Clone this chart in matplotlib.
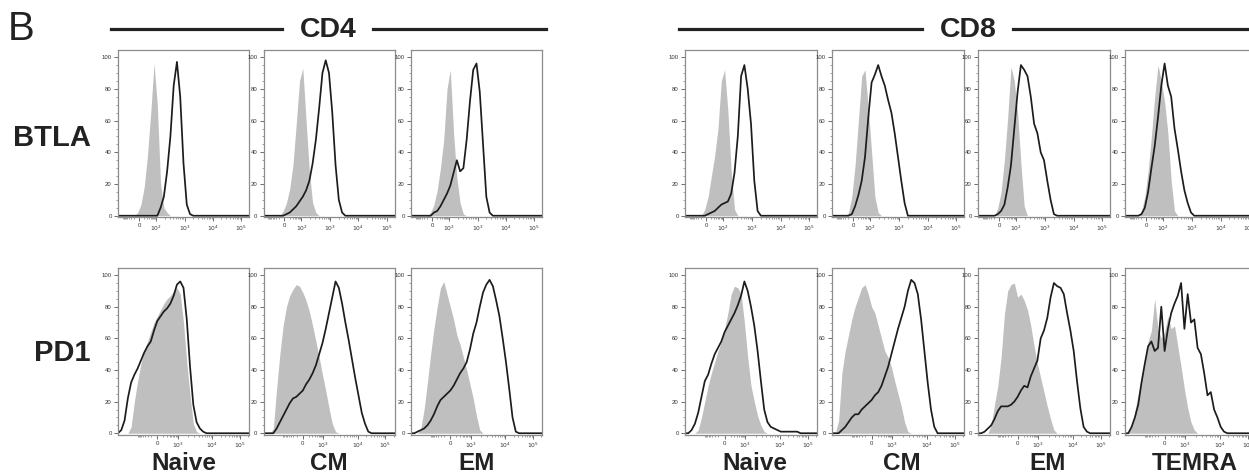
import numpy as np
import matplotlib
matplotlib.use("Agg")
import matplotlib.pyplot as plt

plt.rcParams["font.family"] = ["Liberation Sans", "DejaVu Sans"]

# ------------------------------------------------------------
# Data: histogram heights (% of max) read off the figure, sampled
# every 0.025 of each panel's width (41 bins); trailing zeros padded.
# ------------------------------------------------------------
N_BINS = 41
BINS = np.linspace(0.0, 1.0, N_BINS)

ROWS = ["BTLA", "PD1"]
CD4_SUBSETS = ["Naive", "CM", "EM"]
CD8_SUBSETS = ["Naive", "CM", "EM", "TEMRA"]

TOP_TICKS = ["0", "$10^2$", "$10^3$", "$10^4$", "$10^5$"]
TOP_TICK_POS = [0.16, 0.29, 0.51, 0.725, 0.94]
BOT_TICKS = ["0", "$10^3$", "$10^4$", "$10^5$"]
BOT_TICK_POS = [0.30, 0.455, 0.72, 0.93]
Y_TICKS = [0, 20, 40, 60, 80, 100]

# CD4, BTLA (control = grey fill, stain = black line)
CD4_BTLA_NAIVE_CTRL = [0, 0, 0, 0, 0, 0, 2, 7, 18, 38, 65, 96, 70, 20, 5, 2]
CD4_BTLA_NAIVE_STAIN = [0, 0, 0, 0, 0, 0, 0, 0, 0, 0, 0, 0, 0, 5, 12, 28, 50, 82, 97, 75, 33, 7, 1]
CD4_BTLA_CM_CTRL = [0, 0, 0, 0, 0, 0, 3, 8, 17, 32, 58, 85, 93, 60, 28, 8, 2]
CD4_BTLA_CM_STAIN = [0, 0, 0, 0, 0, 0, 0, 1, 2, 4, 6, 9, 12, 16, 22, 33, 48, 68, 90, 98, 90, 65, 32, 10, 2]
CD4_BTLA_EM_CTRL = [0, 0, 0, 0, 0, 0, 2, 7, 16, 30, 48, 80, 92, 52, 24, 8, 1]
CD4_BTLA_EM_STAIN = [0, 0, 0, 0, 0, 0, 0, 2, 3, 6, 10, 14, 19, 27, 35, 28, 30, 48, 72, 92, 96, 78, 45, 12, 2]

# CD4, PD1
CD4_PD1_NAIVE_CTRL = [0, 0, 0, 0, 4, 20, 33, 44, 52, 58, 64, 70, 74, 78, 82, 85, 87, 90, 92, 88, 70, 45, 24, 6, 1]
CD4_PD1_NAIVE_STAIN = [0, 2, 8, 22, 32, 37, 41, 46, 51, 55, 58, 65, 71, 74, 77, 79, 82, 87, 94, 96, 92, 72, 42, 18, 7, 3, 1]
CD4_PD1_CM_CTRL = [0, 0, 0, 3, 28, 50, 68, 80, 87, 91, 94, 93, 89, 84, 77, 68, 58, 48, 37, 27, 16, 6, 1]
CD4_PD1_CM_STAIN = [0, 0, 0, 0, 3, 7, 11, 15, 19, 22, 23, 25, 27, 31, 34, 38, 43, 50, 57, 66, 76, 86, 96, 92, 82, 70, 59, 47, 35, 24, 13, 6, 1]
CD4_PD1_EM_CTRL = [0, 0, 0, 3, 15, 32, 50, 66, 80, 92, 96, 88, 80, 72, 62, 56, 48, 40, 31, 22, 11, 2]
CD4_PD1_EM_STAIN = [0, 0, 1, 2, 3, 5, 8, 12, 17, 21, 23, 25, 27, 30, 34, 38, 41, 45, 53, 63, 70, 80, 89, 94, 97, 93, 84, 74, 60, 45, 28, 10, 1]

# CD8, BTLA
CD8_BTLA_NAIVE_CTRL = [0, 0, 0, 0, 0, 0, 4, 12, 25, 38, 55, 85, 92, 66, 28, 4]
CD8_BTLA_NAIVE_STAIN = [0, 0, 0, 0, 0, 0, 0, 1, 2, 3, 5, 7, 8, 9, 14, 27, 50, 88, 95, 80, 58, 22, 3]
CD8_BTLA_CM_CTRL = [0, 0, 0, 0, 0, 2, 12, 32, 60, 88, 92, 68, 40, 12, 2]
CD8_BTLA_CM_STAIN = [0, 0, 0, 0, 0, 0, 1, 6, 13, 22, 37, 62, 84, 89, 95, 88, 82, 73, 65, 52, 37, 22, 8]
CD8_BTLA_EM_CTRL = [0, 0, 0, 0, 0, 0, 5, 15, 35, 62, 94, 85, 65, 33, 6]
CD8_BTLA_EM_STAIN = [0, 0, 0, 0, 0, 0, 1, 3, 7, 18, 32, 55, 78, 95, 92, 88, 75, 58, 52, 40, 35, 22, 10, 1]
CD8_BTLA_TEMRA_CTRL = [0, 0, 0, 0, 0, 3, 12, 28, 50, 75, 95, 85, 72, 52, 22, 3]
CD8_BTLA_TEMRA_STAIN = [0, 0, 0, 0, 0, 1, 5, 15, 30, 44, 62, 82, 96, 82, 75, 55, 42, 28, 16, 8, 2]

# CD8, PD1
CD8_PD1_NAIVE_CTRL = [0, 0, 0, 0, 2, 10, 20, 30, 38, 45, 52, 58, 66, 76, 88, 93, 92, 88, 70, 48, 30, 20, 11, 5, 1]
CD8_PD1_NAIVE_STAIN = [0, 0, 2, 6, 13, 23, 33, 37, 44, 50, 54, 58, 64, 68, 72, 76, 81, 87, 96, 90, 80, 68, 52, 33, 15, 7, 4, 3, 2, 1, 1, 1, 1, 1, 1]
CD8_PD1_CM_CTRL = [0, 0, 8, 38, 52, 62, 72, 80, 86, 92, 94, 88, 80, 76, 68, 60, 52, 48, 42, 33, 25, 17, 7, 1]
CD8_PD1_CM_STAIN = [0, 0, 0, 2, 4, 7, 10, 12, 12, 15, 17, 19, 21, 24, 26, 30, 36, 42, 50, 58, 66, 73, 80, 90, 97, 95, 88, 72, 52, 32, 15, 4]
CD8_PD1_EM_CTRL = [0, 0, 0, 0, 5, 18, 30, 48, 75, 90, 94, 95, 86, 88, 84, 78, 68, 55, 44, 35, 26, 17, 9, 2]
CD8_PD1_EM_STAIN = [0, 0, 1, 3, 5, 9, 14, 17, 17, 17, 18, 20, 23, 27, 30, 29, 36, 41, 46, 60, 65, 73, 86, 95, 93, 92, 88, 76, 65, 52, 33, 16, 4, 1]
CD8_PD1_TEMRA_CTRL = [0, 0, 4, 14, 25, 34, 45, 58, 65, 85, 66, 60, 64, 74, 66, 68, 55, 42, 28, 16, 7, 2]
CD8_PD1_TEMRA_STAIN = [0, 0, 4, 10, 18, 32, 44, 55, 58, 52, 54, 80, 52, 66, 76, 82, 87, 95, 66, 88, 70, 72, 54, 50, 38, 24, 26, 15, 10, 4, 1]

CD4_DATA = {
    "BTLA": [(CD4_BTLA_NAIVE_CTRL, CD4_BTLA_NAIVE_STAIN), (CD4_BTLA_CM_CTRL, CD4_BTLA_CM_STAIN),
             (CD4_BTLA_EM_CTRL, CD4_BTLA_EM_STAIN)],
    "PD1": [(CD4_PD1_NAIVE_CTRL, CD4_PD1_NAIVE_STAIN), (CD4_PD1_CM_CTRL, CD4_PD1_CM_STAIN),
            (CD4_PD1_EM_CTRL, CD4_PD1_EM_STAIN)],
}
CD8_DATA = {
    "BTLA": [(CD8_BTLA_NAIVE_CTRL, CD8_BTLA_NAIVE_STAIN), (CD8_BTLA_CM_CTRL, CD8_BTLA_CM_STAIN),
             (CD8_BTLA_EM_CTRL, CD8_BTLA_EM_STAIN), (CD8_BTLA_TEMRA_CTRL, CD8_BTLA_TEMRA_STAIN)],
    "PD1": [(CD8_PD1_NAIVE_CTRL, CD8_PD1_NAIVE_STAIN), (CD8_PD1_CM_CTRL, CD8_PD1_CM_STAIN),
            (CD8_PD1_EM_CTRL, CD8_PD1_EM_STAIN), (CD8_PD1_TEMRA_CTRL, CD8_PD1_TEMRA_STAIN)],
}


def as_bins(vals):
    out = np.zeros(N_BINS)
    out[: len(vals)] = vals
    return out


def minor_positions(major_pos):
    """log-style minor ticks between decade labels, mirrored round zero."""
    ks = np.log10(np.arange(2, 10))
    pos = []
    zero, first = major_pos[0], major_pos[1]
    gap = first - zero
    pos += list(zero + gap * ks)
    pos += list(zero - gap * ks)
    for a, b in zip(major_pos[1:-1], major_pos[2:]):
        pos += list(a + (b - a) * ks)
    last = major_pos[-1]
    d = major_pos[-1] - major_pos[-2]
    pos += list(last + d * ks)
    return [p for p in pos if 0.0 < p < 1.0]


# ------------------------------------------------------------
# Figure layout (pixel geometry of the 1249 x 476 original)
# ------------------------------------------------------------
W_PX, H_PX = 1249, 476
fig = plt.figure(figsize=(W_PX / 100, H_PX / 100), dpi=100)

ROW_TOP_PX = {"BTLA": (50, 217), "PD1": (268, 434.5)}
CD4_LEFTS, CD4_W = [118, 263.5, 411], 131
CD8_LEFTS, CD8_W = [685, 832, 978, 1125], 132

GREY = "#bfbfbf"
INK = "#1c1c1c"


def make_panel(left_px, width_px, row, ctrl, stain):
    top, bot = ROW_TOP_PX[row]
    ax = fig.add_axes([left_px / W_PX, 1 - bot / H_PX, width_px / W_PX, (bot - top) / H_PX])
    ax.fill_between(BINS, 0, as_bins(ctrl), color=GREY, lw=0, zorder=1)
    ax.plot(BINS, as_bins(stain), color=INK, lw=1.25, zorder=2)
    ax.set_xlim(0, 1)
    ax.set_ylim(-0.8, 104.5)

    if row == "BTLA":
        ticks, labels = TOP_TICK_POS, TOP_TICKS
    else:
        ticks, labels = BOT_TICK_POS, BOT_TICKS
    ax.set_xticks(ticks)
    ax.set_xticklabels(labels)
    ax.set_xticks(minor_positions(ticks), minor=True)
    ax.set_yticks(Y_TICKS)
    ax.set_yticks(np.arange(0, 101, 5), minor=True)

    ax.tick_params(which="major", length=3, width=0.6, color="#555555", labelsize=4.3,
                   labelcolor="#333333", pad=1.5, direction="out")
    ax.tick_params(which="minor", length=1.6, width=0.5, color="#777777", direction="out")
    for sp in ax.spines.values():
        sp.set_color("#8c8c8c")
        sp.set_linewidth(0.9)
    return ax


for row in ROWS:
    for left, (ctrl, stain) in zip(CD4_LEFTS, CD4_DATA[row]):
        make_panel(left, CD4_W, row, ctrl, stain)
    for left, (ctrl, stain) in zip(CD8_LEFTS, CD8_DATA[row]):
        make_panel(left, CD8_W, row, ctrl, stain)


# ------------------------------------------------------------
# Annotations
# ------------------------------------------------------------
def fx(px):
    return px / W_PX


def fy(py):
    return 1 - py / H_PX


TXT = "#222222"
fig.text(fx(8), fy(29), "B", fontsize=29, color=TXT, ha="left", va="center")

# group headers with rules
for (x0, x1), (x2, x3), label, cx in [((111, 282), (373, 546), "CD4", 328),
                                      ((679, 922), (1013, 1252), "CD8", 968)]:
    for a, b in [(x0, x1), (x2, x3)]:
        fig.add_artist(plt.Line2D([fx(a), fx(b)], [fy(28.5), fy(28.5)], color=TXT, lw=2.3))
    fig.text(fx(cx), fy(30), label, fontsize=20.5, fontweight="bold", color=TXT, ha="center", va="center")

fig.text(fx(91), fy(138), "BTLA", fontsize=21, fontweight="bold", color=TXT, ha="right", va="center")
fig.text(fx(90), fy(353), "PD1", fontsize=21, fontweight="bold", color=TXT, ha="right", va="center")

for left, name in zip(CD4_LEFTS, CD4_SUBSETS):
    fig.text(fx(left + CD4_W / 2), fy(463), name, fontsize=17.5, fontweight="bold", color=TXT,
             ha="center", va="center")
for left, name in zip(CD8_LEFTS, CD8_SUBSETS):
    fig.text(fx(left + CD8_W / 2 + 4), fy(463), name, fontsize=17.5, fontweight="bold", color=TXT,
             ha="center", va="center")

fig.savefig("out.png", dpi=100)
